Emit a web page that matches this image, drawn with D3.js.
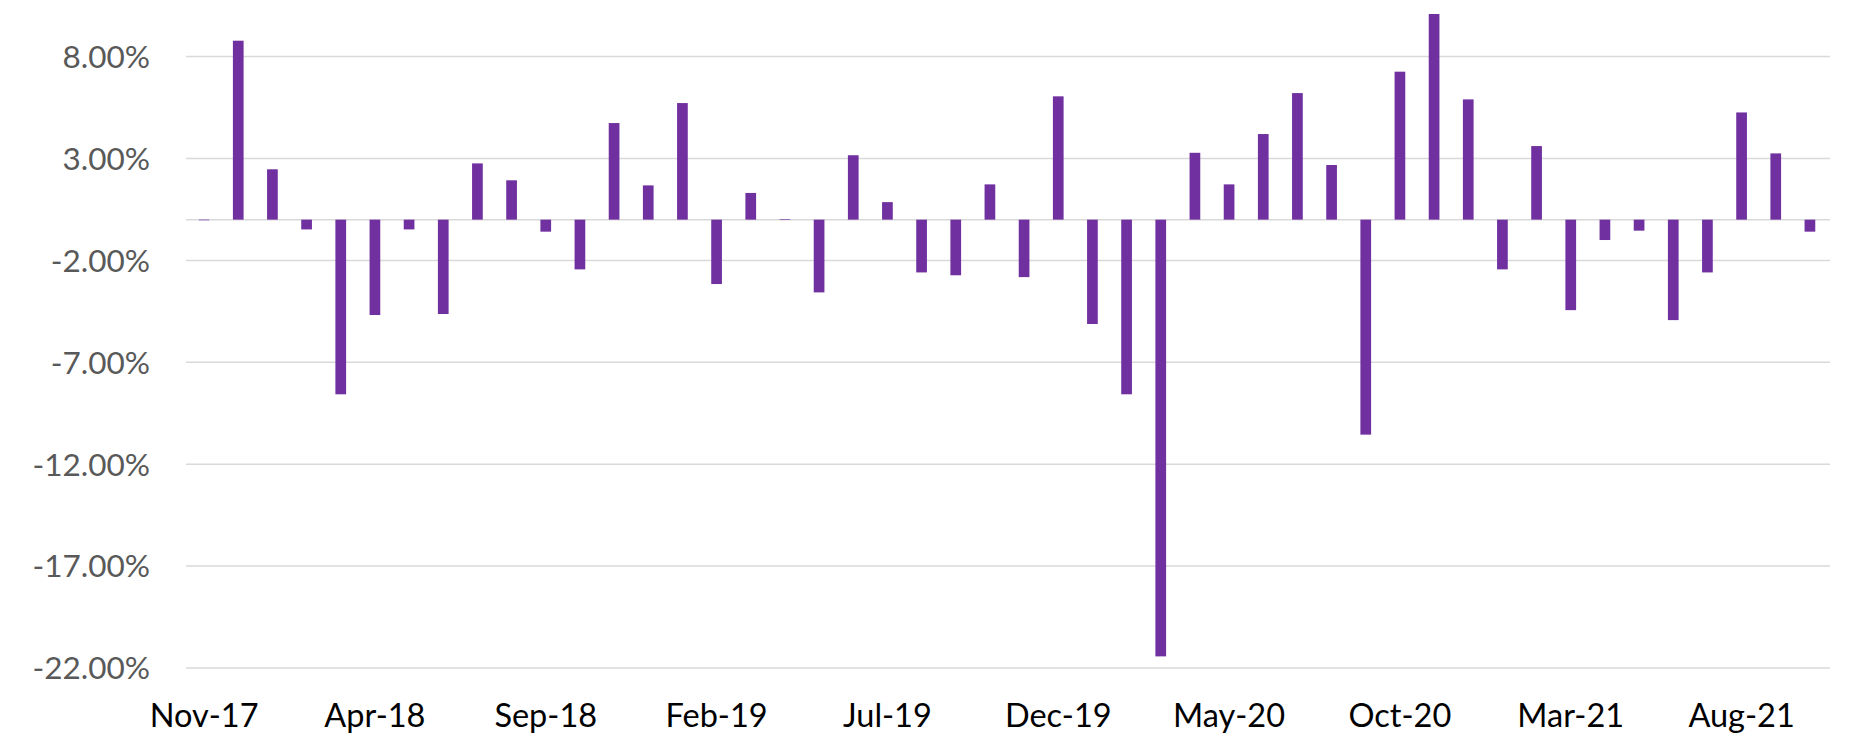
<!DOCTYPE html>
<html>
<head>
<meta charset="utf-8">
<script src="https://cdn.jsdelivr.net/npm/d3@7"></script>
<style>
	html, body { margin: 0; padding: 0; background: #ffffff; }
	svg { display: block; }
	.grid line { stroke: #d9d9d9; stroke-width: 1.5; }
	.y-label { fill: #595959; font-family: Lato, "Open Sans", sans-serif; font-size: 31.5px; }
	.x-label { fill: #000000; font-family: Lato, "Open Sans", sans-serif; font-size: 32.5px; }
	.bar { fill: #7030a0; }
</style>
</head>
<body>
<div id="chart"></div>
<script>
// months on the category axis
const months = [
	"Nov-17", "Dec-17", "Jan-18", "Feb-18", "Mar-18", "Apr-18", "May-18", "Jun-18",
	"Jul-18", "Aug-18", "Sep-18", "Oct-18", "Nov-18", "Dec-18", "Jan-19", "Feb-19",
	"Mar-19", "Apr-19", "May-19", "Jun-19", "Jul-19", "Aug-19", "Sep-19", "Oct-19",
	"Nov-19", "Dec-19", "Jan-20", "Feb-20", "Mar-20", "Apr-20", "May-20", "Jun-20",
	"Jul-20", "Aug-20", "Sep-20", "Oct-20", "Nov-20", "Dec-20", "Jan-21", "Feb-21",
	"Mar-21", "Apr-21", "May-21", "Jun-21", "Jul-21", "Aug-21", "Sep-21", "Oct-21"
];

// monthly return, in percent
const returns = [
	-0.03, 8.78, 2.47, -0.48, -8.57, -4.68, -0.48, -4.63,
	2.76, 1.93, -0.59, -2.44, 4.74, 1.68, 5.72, -3.16,
	1.31, 0.03, -3.57, 3.16, 0.86, -2.59, -2.73, 1.73,
	-2.82, 6.05, -5.12, -8.57, -21.43, 3.28, 1.73, 4.20,
	6.21, 2.68, -10.55, 7.26, 10.09, 5.90, -2.44, 3.61,
	-4.44, -1.00, -0.54, -4.93, -2.59, 5.26, 3.25, -0.59
];

// labelled months and y ticks
const xTickLabels = ["Nov-17", "Apr-18", "Sep-18", "Feb-19", "Jul-19", "Dec-19", "May-20", "Oct-20", "Mar-21", "Aug-21"];
const yTicks = [-22, -17, -12, -7, -2, 3, 8];

function main() {

	const SVG_WIDTH  = 1851;
	const SVG_HEIGHT = 734;

	// plot area (top is where 8% sits, bottom where -22% sits)
	var plot = {left: 187, right: 1827, top: 56.6, bottom: 668};

	var svg = d3.select("#chart")
		.append("svg")
		.attr("width", SVG_WIDTH)
		.attr("height", SVG_HEIGHT);

	var x = d3.scaleBand()
		.domain(months)
		.range([plot.left, plot.right])
		.paddingInner(0.687)
		.paddingOuter(0.3435);

	var y = d3.scaleLinear()
		.domain([-22, 8])
		.range([plot.bottom, plot.top]);

	// horizontal gridlines + zero line
	var grid = svg.append("g").attr("class", "grid");
	grid.selectAll("line.tick")
		.data(yTicks.concat([0]))
		.enter()
		.append("line")
		.attr("x1", plot.left - 1)
		.attr("x2", plot.right + 3)
		.attr("y1", d => y(d))
		.attr("y2", d => y(d));

	// y labels, plain hyphen for negatives like the excel original
	svg.append("g")
		.selectAll("text")
		.data(yTicks)
		.enter()
		.append("text")
		.attr("class", "y-label")
		.attr("x", 150)
		.attr("y", d => y(d))
		.attr("dy", "0.36em")
		.attr("text-anchor", "end")
		.text(d => (d < 0 ? "-" : "") + Math.abs(d).toFixed(2) + "%");

	// bars
	svg.append("g")
		.selectAll("rect")
		.data(returns)
		.enter()
		.append("rect")
		.attr("class", "bar")
		.attr("x", (d, i) => x(months[i]))
		.attr("width", x.bandwidth())
		.attr("y", d => y(Math.max(0, d)))
		.attr("height", d => Math.abs(y(d) - y(0)));

	// x labels, every fifth month
	svg.append("g")
		.selectAll("text")
		.data(xTickLabels)
		.enter()
		.append("text")
		.attr("class", "x-label")
		.attr("x", d => x(d) + x.bandwidth() / 2)
		.attr("y", 727)
		.attr("text-anchor", "middle")
		.text(d => d);
}

function whenDocumentLoaded(action) {
	if (document.readyState === "loading") {
		document.addEventListener("DOMContentLoaded", action);
	} else {
		action();
	}
}

whenDocumentLoaded(() => {
	main()
});
</script>
</body>
</html>
